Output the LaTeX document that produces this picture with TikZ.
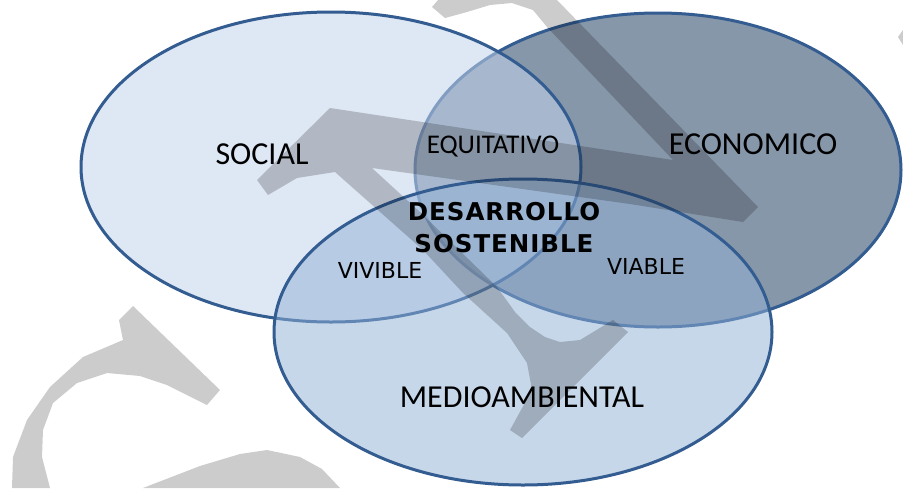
\documentclass[tikz,border=0pt]{standalone}
\usepackage{fontspec}
\setmainfont{Carlito}
\newfontfamily\verdfont{DejaVu Sans}
\newfontfamily\verdwide[LetterSpace=4]{DejaVu Sans}
\usepackage{tikz}
\usetikzlibrary{shapes.geometric}
\usepackage{xcolor}
\definecolor{vnedge}{RGB}{51,92,145}
\definecolor{vnsocial}{RGB}{195,212,236}
\definecolor{vneco}{RGB}{135,151,170}
\definecolor{vnmedio}{RGB}{145,177,215}
\tikzstyle{circulo} = [ellipse, draw=vnedge, line width=3pt, inner sep=0pt]
\tikzstyle{etiqueta} = [font=\fontsize{32}{32}\selectfont, inner sep=0pt, anchor=base]
\tikzstyle{cruce} = [font=\verdfont\fontsize{22}{22}\selectfont, inner sep=0pt, anchor=base]
\tikzstyle{marca} = [fill=black, fill opacity=0.2, draw=none]

\begin{document}
\begin{tikzpicture}[x=1pt, y=-1pt]
\useasboundingbox[fill=white] (0,0) rectangle (903,488);

% Ellipses
\node (eco) [circulo, fill=vneco, minimum width=486pt, minimum height=314pt] at (658,170) {};
\node (social) [circulo, fill=vnsocial, fill opacity=0.55, draw opacity=1, minimum width=500pt, minimum height=310pt] at (331,167) {};
\node (medio) [circulo, fill=vnmedio, fill opacity=0.5, draw opacity=1, minimum width=498pt, minimum height=306pt] at (523,332) {};

% Watermark
\fill[marca] (257,180) -- (330,108) -- (673,160) -- (547,27) -- (533,10) -- (512,3) -- (490,5)
  -- (467,12) -- (445,18) -- (432,7) -- (438,0) -- (557,0) -- (758,207) -- (743,222)
  -- (630,204) -- (372,168) -- (420,212) -- (497,287) -- (515,312) -- (530,327) -- (545,337)
  -- (560,342) -- (580,340) -- (613,320) -- (628,332) -- (522,438) -- (510,430) -- (532,390)
  -- (527,363) -- (507,333) -- (463,293) -- (423,250) -- (335,172) -- (297,178) -- (268,195) -- cycle;
\fill[marca] (133,306) -- (220,390) -- (207,405) -- (167,385) -- (140,376) -- (107,373) -- (77,383)
  -- (53,403) -- (43,430) -- (42,457) -- (50,488) -- (12,488) -- (13,457) -- (27,420)
  -- (50,387) -- (83,357) -- (123,340) -- (119,320) -- cycle;
\fill[marca] (143,488) -- (200,466) -- (240,454) -- (267,450) -- (300,457) -- (322,469) -- (340,488) -- cycle;
\fill[marca] (898,37) -- (903,30) -- (903,45) -- cycle;

% Labels
\node (lsocial) [etiqueta] at (262,164) {SOCIAL};
\node (leco) [etiqueta] at (753,154) {ECONOMICO};
\node (lmedio) [etiqueta] at (522,407) {MEDIOAMBIENTAL};
\node (lequi) [etiqueta, font=\fontsize{27}{27}\selectfont] at (493,153) {EQUITATIVO};
\node (lvivible) [cruce] at (380,278) {VIVIBLE};
\node (lviable) [cruce] at (646,274) {VIABLE};
\node (centro) [font=\verdwide\bfseries\fontsize{24.5}{32}\selectfont, align=center, inner sep=0pt] at (504,228) {DESARROLLO\\SOSTENIBLE};
\end{tikzpicture}
\end{document}
